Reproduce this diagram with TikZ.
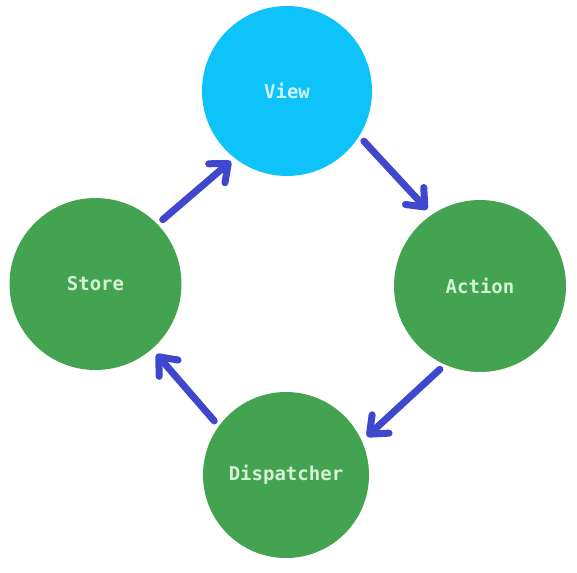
\documentclass[tikz,border=0pt]{standalone}
\usepackage{fontspec}
\usetikzlibrary{arrows.meta}
\newfontfamily\flowfont{DejaVu Sans Mono}
\definecolor{viewblue}{RGB}{14,195,250}
\definecolor{partgreen}{RGB}{68,163,81}
\definecolor{flowarrow}{RGB}{63,72,204}
\definecolor{greentext}{RGB}{214,242,212}
\definecolor{bluetext}{RGB}{205,243,255}
\begin{document}
\begin{tikzpicture}[x=1pt,y=-1pt,
    part/.style={circle,fill=partgreen,text=greentext,minimum size=172pt,inner sep=0pt,outer sep=0pt,
      font=\flowfont\bfseries\fontsize{19}{19}\selectfont},
    flow/.style={-{Straight Barb[round,length=15pt,width=25pt]},draw=flowarrow,line width=7pt,line cap=round,
      shorten <=7pt,shorten >=7pt}]
            \useasboundingbox (0,0) rectangle (577,572);
            \node[part,fill=viewblue,text=bluetext,minimum size=170pt] (view) at (287,91) {View};
            \node[part] (action) at (480,286) {Action};
            \node[part,minimum size=166pt] (dispatcher) at (286,475) {Dispatcher};
            \node[part] (store) at (95.5,284) {Store};
            \draw[flow] (view.-32) to (action.124);
            \draw[flow] (action.246) to (dispatcher.24.5);
            \draw[flow] (dispatcher.144.5) to (store.-49.6);
            \draw[flow,shorten >=5pt] (store.44) to (view.232);
          \end{tikzpicture}
\end{document}
